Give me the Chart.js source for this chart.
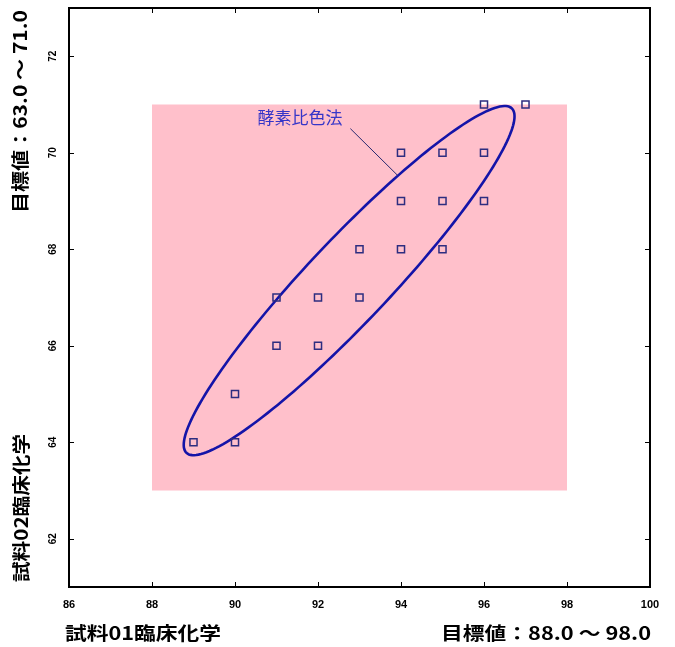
<!DOCTYPE html>
<html>
<head>
<meta charset="utf-8">
<script src="https://cdn.jsdelivr.net/npm/chart.js@4/dist/chart.umd.min.js"></script>
<style>
  html, body { margin: 0; padding: 0; background: #ffffff; }
  #wrap { width: 675px; height: 647px; position: relative; }
</style>
</head>
<body>
<div id="wrap"><canvas id="c"></canvas></div>
<script>
// ---- data ----
const sample01 = [89, 90, 90, 91, 91, 92, 92, 93, 93, 94, 94, 94, 95, 95, 95, 96, 96, 96, 97];
const sample02 = [64, 64, 65, 66, 67, 66, 67, 67, 68, 68, 69, 70, 68, 69, 70, 69, 70, 71, 71];
const xTicks = [86, 88, 90, 92, 94, 96, 98, 100];
const yTicks = [62, 64, 66, 68, 70, 72];
const xRange = [86, 100];
const yRange = [61, 73];
const targetX = [88.0, 98.0];
const targetY = [63.0, 71.0];
// ellipse: centre, end of major axis, end of minor axis (data units)
const ellipseCenter = [92.75, 67.35];
const ellipseMajor = [96.67, 70.92];
const ellipseMinor = [92.03, 67.94];
const methodLabel = '酵素比色法';
const methodLabelPos = [90.54, 70.73];
const methodLeader = [[92.78, 70.50], [93.92, 69.53]];
const xTitle = '試料01臨床化学';
const yTitle = '試料02臨床化学';
const xTargetText = '目標値：' + targetX[0].toFixed(1) + ' ～ ' + targetX[1].toFixed(1);
const yTargetText = '目標値：' + targetY[0].toFixed(1) + ' ～ ' + targetY[1].toFixed(1);

const points = sample01.map((x, i) => ({ x: x, y: sample02[i] }));

function fitText(ctx, text, x, y, width, fontPx, rot) {
  ctx.save();
  ctx.font = 'bold ' + fontPx + 'px "Noto Sans CJK JP", sans-serif';
  ctx.fillStyle = '#000';
  ctx.textAlign = 'left';
  ctx.textBaseline = 'middle';
  const w = ctx.measureText(text).width;
  ctx.translate(x, y);
  ctx.rotate(rot);
  ctx.scale(width / w, 1);
  ctx.fillText(text, 0, 0);
  ctx.restore();
}

const decor = {
  id: 'decor',
  beforeDatasetsDraw(chart) {
    const { ctx, scales: { x, y } } = chart;
    // target range box
    const x0 = x.getPixelForValue(targetX[0]), x1 = x.getPixelForValue(targetX[1]);
    const y0 = y.getPixelForValue(targetY[1]), y1 = y.getPixelForValue(targetY[0]);
    ctx.save();
    ctx.fillStyle = 'rgb(255,192,203)';
    ctx.fillRect(x0, y0, x1 - x0, y1 - y0);
    // ellipse
    const cx = x.getPixelForValue(ellipseCenter[0]), cy = y.getPixelForValue(ellipseCenter[1]);
    const px = x.getPixelForValue(ellipseMajor[0]) - cx, py = y.getPixelForValue(ellipseMajor[1]) - cy;
    const qx = x.getPixelForValue(ellipseMinor[0]) - cx, qy = y.getPixelForValue(ellipseMinor[1]) - cy;
    ctx.beginPath();
    const N = 180;
    for (let i = 0; i <= N; i++) {
      const t = i / N * Math.PI * 2;
      const ex = cx + px * Math.cos(t) + qx * Math.sin(t);
      const ey = cy + py * Math.cos(t) + qy * Math.sin(t);
      if (i === 0) ctx.moveTo(ex, ey); else ctx.lineTo(ex, ey);
    }
    ctx.closePath();
    ctx.strokeStyle = '#1414a8';
    ctx.lineWidth = 2.6;
    ctx.stroke();
    // leader line and method label
    ctx.beginPath();
    ctx.moveTo(x.getPixelForValue(methodLeader[0][0]), y.getPixelForValue(methodLeader[0][1]));
    ctx.lineTo(x.getPixelForValue(methodLeader[1][0]), y.getPixelForValue(methodLeader[1][1]));
    ctx.strokeStyle = '#2a2a70';
    ctx.lineWidth = 1;
    ctx.stroke();
    ctx.font = '17px "Noto Sans CJK JP", sans-serif';
    ctx.fillStyle = '#3535c8';
    ctx.textAlign = 'left';
    ctx.textBaseline = 'middle';
    ctx.fillText(methodLabel, x.getPixelForValue(methodLabelPos[0]), y.getPixelForValue(methodLabelPos[1]));
    ctx.restore();
  },
  afterDraw(chart) {
    const { ctx, chartArea: a, scales: { x, y } } = chart;
    ctx.save();
    ctx.strokeStyle = '#000';
    ctx.lineWidth = 2;
    ctx.beginPath();
    ctx.moveTo(a.left, a.top); ctx.lineTo(a.right, a.top); ctx.lineTo(a.right, a.bottom);
    ctx.stroke();
    // inward tick marks on all four sides
    ctx.lineWidth = 1;
    ctx.beginPath();
    xTicks.forEach(v => {
      const p = Math.round(x.getPixelForValue(v)) + 0.5;
      if (v === xRange[0] || v === xRange[1]) return;
      ctx.moveTo(p, a.bottom); ctx.lineTo(p, a.bottom - 5);
      ctx.moveTo(p, a.top); ctx.lineTo(p, a.top + 5);
    });
    yTicks.forEach(v => {
      const p = Math.round(y.getPixelForValue(v)) + 0.5;
      ctx.moveTo(a.left, p); ctx.lineTo(a.left + 5, p);
      ctx.moveTo(a.right, p); ctx.lineTo(a.right - 5, p);
    });
    ctx.stroke();
    ctx.restore();
    // axis titles
    fitText(ctx, xTitle, 65, 633, 156, 18, 0);
    fitText(ctx, xTargetText, 441, 633, 210, 18, 0);
    fitText(ctx, yTitle, 21, 582, 148, 18, -Math.PI / 2);
    fitText(ctx, yTargetText, 20, 213, 203, 18, -Math.PI / 2);
  }
};

new Chart(document.getElementById('c'), {
  type: 'scatter',
  data: {
    datasets: [{
      label: methodLabel,
      data: points,
      pointStyle: 'rect',
      pointRadius: 5,
      pointHoverRadius: 5,
      borderWidth: 1.5,
      borderColor: '#2d2d80',
      backgroundColor: 'rgba(0,0,0,0)'
    }]
  },
  options: {
    responsive: true,
    maintainAspectRatio: false,
    animation: false,
    layout: { padding: { top: 8, right: 25, left: 0, bottom: 0 } },
    plugins: { legend: { display: false }, tooltip: { enabled: false } },
    scales: {
      x: {
        type: 'linear',
        min: xRange[0], max: xRange[1],
        afterBuildTicks: s => { s.ticks = xTicks.map(v => ({ value: v })); },
        afterFit: s => { s.height = 60; s.paddingLeft = 0; s.paddingRight = 0; },
        grid: { display: false, drawTicks: false },
        border: { display: true, color: '#000', width: 2 },
        ticks: {
          padding: 11,
          color: '#000',
          maxRotation: 0,
          font: { family: '"Liberation Sans", Arial, sans-serif', size: 11, weight: 'bold' }
        }
      },
      y: {
        type: 'linear',
        min: yRange[0], max: yRange[1],
        afterBuildTicks: s => { s.ticks = yTicks.map(v => ({ value: v })); },
        afterFit: s => { s.width = 69; s.paddingTop = 0; s.paddingBottom = 0; },
        grid: { display: false, drawTicks: false },
        border: { display: true, color: '#000', width: 2 },
        ticks: {
          padding: 10,
          color: '#000',
          minRotation: 90,
          maxRotation: 90,
          crossAlign: 'center',
          font: { family: '"Liberation Sans", Arial, sans-serif', size: 10, weight: 'bold' }
        }
      }
    }
  },
  plugins: [decor]
});
</script>
</body>
</html>
